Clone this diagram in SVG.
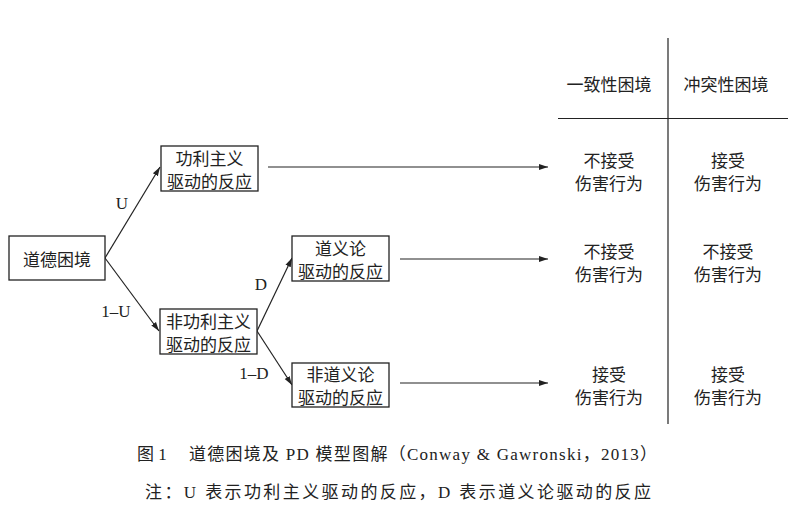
<svg xmlns="http://www.w3.org/2000/svg" width="800" height="516" viewBox="0 0 800 516">
<style>
text{font-family:"Liberation Serif","Noto Sans CJK SC",serif;font-size:17px;fill:#222;text-anchor:middle;dominant-baseline:central}
.cjk{font-family:"Noto Sans CJK SC",sans-serif}
.box{fill:#fff;stroke:#222;stroke-width:1.3}
.ln{stroke:#222;stroke-width:1.2;fill:none}
.cap{font-size:17px;text-anchor:start}
</style>
<defs>
<marker id="ah" viewBox="0 0 10 10" refX="10" refY="5" markerWidth="9" markerHeight="9" markerUnits="userSpaceOnUse" orient="auto">
<path d="M0,1.8 L10,5 L0,8.2 z" fill="#222"/>
</marker>
</defs>
<rect width="800" height="516" fill="#fff"/>
<g id="connectors">
<line class="ln" x1="105" y1="258" x2="160" y2="167" marker-end="url(#ah)"/>
<line class="ln" x1="105" y1="258" x2="159" y2="331" marker-end="url(#ah)"/>
<line class="ln" x1="257" y1="331" x2="292" y2="258" marker-end="url(#ah)"/>
<line class="ln" x1="257" y1="331" x2="292" y2="385" marker-end="url(#ah)"/>
<line class="ln" x1="268" y1="167" x2="548" y2="167" marker-end="url(#ah)"/>
<line class="ln" x1="400" y1="259" x2="548" y2="259" marker-end="url(#ah)"/>
<line class="ln" x1="400" y1="383" x2="548" y2="383" marker-end="url(#ah)"/>
<text x="122" y="203">U</text>
<text x="116" y="311">1–U</text>
<text x="261" y="284">D</text>
<text x="254" y="373">1–D</text>
</g>
<g id="n-dilemma">
<rect class="box" x="9" y="236" width="96" height="44"/>
<text class="cjk" x="57" y="258">道德困境</text>
</g>
<g id="n-util">
<rect class="box" x="161" y="146" width="97" height="45"/>
<text class="cjk" x="209.5" y="157">功利主义</text>
<text class="cjk" x="209.5" y="180.5">驱动的反应</text>
</g>
<g id="n-nonutil">
<rect class="box" x="160" y="309" width="97" height="45"/>
<text class="cjk" x="208.5" y="320">非功利主义</text>
<text class="cjk" x="208.5" y="343.5">驱动的反应</text>
</g>
<g id="n-deon">
<rect class="box" x="292" y="236" width="97" height="45"/>
<text class="cjk" x="340.5" y="247">道义论</text>
<text class="cjk" x="340.5" y="270.5">驱动的反应</text>
</g>
<g id="n-nondeon">
<rect class="box" x="292" y="363" width="97" height="44"/>
<text class="cjk" x="340.5" y="373.5">非道义论</text>
<text class="cjk" x="340.5" y="396.5">驱动的反应</text>
</g>
<g id="table">
<line class="ln" x1="668" y1="38" x2="668" y2="424"/>
<line class="ln" x1="558" y1="118.5" x2="788" y2="118.5"/>
<text class="cjk" x="609" y="83">一致性困境</text>
<text class="cjk" x="726" y="83">冲突性困境</text>
<text class="cjk" x="609" y="159.5">不接受</text>
<text class="cjk" x="609" y="182.5">伤害行为</text>
<text class="cjk" x="728" y="159.5">接受</text>
<text class="cjk" x="728" y="182.5">伤害行为</text>
<text class="cjk" x="609" y="250">不接受</text>
<text class="cjk" x="609" y="273">伤害行为</text>
<text class="cjk" x="728" y="250">不接受</text>
<text class="cjk" x="728" y="273">伤害行为</text>
<text class="cjk" x="609" y="373.5">接受</text>
<text class="cjk" x="609" y="396.5">伤害行为</text>
<text class="cjk" x="728" y="373.5">接受</text>
<text class="cjk" x="728" y="396.5">伤害行为</text>
</g>
<g id="caption">
<text class="cap" x="137" y="454">图 1</text>
<text class="cap" x="189" y="454" textLength="468" lengthAdjust="spacing">道德困境及 PD 模型图解（Conway &amp; Gawronski，2013）</text>
<text class="cap" x="145" y="492" textLength="506" lengthAdjust="spacing">注：U 表示功利主义驱动的反应，D 表示道义论驱动的反应</text>
</g>
</svg>
